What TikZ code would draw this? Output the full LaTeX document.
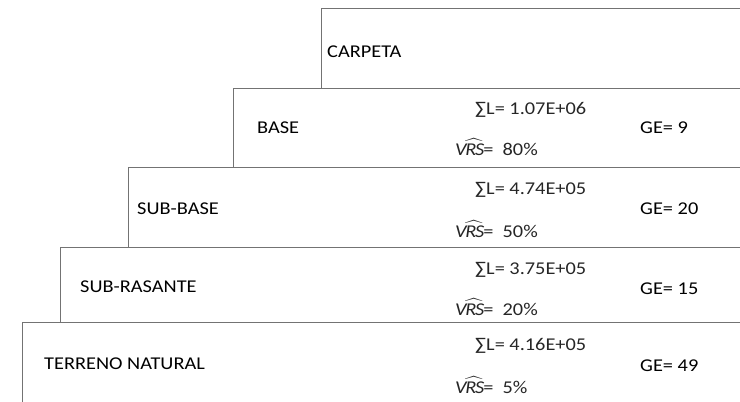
\documentclass[tikz,border=0pt]{standalone}
\usepackage{amsmath}
\usepackage{fontspec}
\setmainfont{Carlito}[FakeStretch=1.13]
\usetikzlibrary{positioning}

\newcommand{\vrs}{$\mathit{V}\widehat{\mathit{RS}}$=}

\begin{document}
\begin{tikzpicture}[
  x=1pt, y=-1pt,
  every node/.style={inner sep=0pt, anchor=west,
    font=\fontsize{18}{20}\selectfont},
  layer/.style={draw=black!55, line width=0.9pt},
  val/.style={text=black!85}
]
  \useasboundingbox (0,0) rectangle (740,402);

  % layer outlines
  \draw[layer] (321,88) -- (321,8) -- (740,8);
  \draw[layer] (233,167) -- (233,88) -- (740,88);
  \draw[layer] (128,247) -- (128,167) -- (740,167);
  \draw[layer] (60,322) -- (60,247) -- (740,247);
  \draw[layer] (22,402) -- (22,322) -- (740,322);

  % layer names
  \node (carpeta) at (327,52) {CARPETA};
  \node (base) at (257,128) {BASE};
  \node (subbase) at (137,209) {SUB-BASE};
  \node (subrasante) at (80,287) {SUB-RASANTE};
  \node (terreno) at (44,364) {TERRENO NATURAL};

  % base
  \node[val] (sumbase) at (475,110) {∑L= 1.07E+06};
  \node[val] (vrsbase) at (455,147) {\vrs\ \ 80\%};
  \node (gebase) at (640,128) {GE= 9};

  % sub-base
  \node[val] (sumsubbase) at (475,190) {∑L= 4.74E+05};
  \node[val] (vrssubbase) at (455,229) {\vrs\ \ 50\%};
  \node (gesubbase) at (640,209) {GE= 20};

  % sub-rasante
  \node[val] (sumsubras) at (475,270) {∑L= 3.75E+05};
  \node[val] (vrssubras) at (455,307) {\vrs\ \ 20\%};
  \node (gesubras) at (640,289) {GE= 15};

  % terreno natural
  \node[val] (sumterreno) at (475,346) {∑L= 4.16E+05};
  \node[val] (vrsterreno) at (455,385) {\vrs\ \ 5\%};
  \node (geterreno) at (640,366) {GE= 49};
\end{tikzpicture}
\end{document}
